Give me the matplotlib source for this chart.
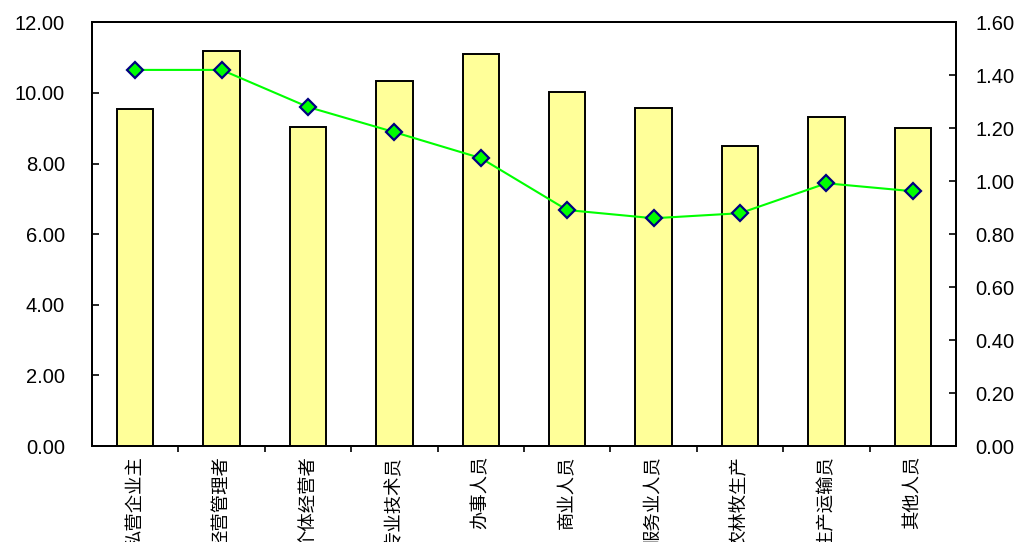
import numpy as np
import matplotlib.pyplot as plt
from matplotlib.ticker import FormatStrFormatter

plt.rcParams['font.family'] = ['Liberation Sans', 'DejaVu Sans']

# ── data ─────────────────────────────────────────────────────────────────
categories = ["私营企业主", "经营管理者", "个体经营者", "专业技术员", "办事人员",
              "商业人员", "服务业人员", "农林牧生产", "生产运输员", "其他人员"]
bar_values = [9.54, 11.18, 9.03, 10.33, 11.10, 10.02, 9.57, 8.49, 9.31, 9.00]
line_values = [1.42, 1.42, 1.28, 1.185, 1.087, 0.891, 0.860, 0.879, 0.992, 0.962]

x = np.arange(len(categories))

fig = plt.figure(figsize=(10.19, 5.42), dpi=100)
ax = fig.add_axes([0.0903, 0.177, 0.8479, 0.782])

ax.bar(x, bar_values, width=0.42, color='#FFFF99', edgecolor='black',
       linewidth=1.4, zorder=2)
ax.set_xlim(-0.5, len(categories) - 0.5)
ax.set_ylim(0, 12)
ax.set_yticks(np.arange(0, 12.01, 2))
ax.yaxis.set_major_formatter(FormatStrFormatter('%.2f'))
ax.tick_params(axis='y', direction='in', length=5, width=1.2, labelsize=14.5, pad=19.5)

# category labels, rotated; the reference clips them at the bottom edge
ax.set_xticks(x)
ax.set_xticklabels(categories, rotation=90, va='top', ha='center',
                   family=['Noto Sans CJK SC', 'DejaVu Sans'], fontsize=13.2,
                   fontweight='light')
ax.tick_params(axis='x', which='major', length=0, pad=7)
ax.set_xticks(x[:-1] + 0.5, minor=True)
ax.tick_params(axis='x', which='minor', direction='out', length=4, width=1.2)

ax2 = ax.twinx()
ax2.plot(x, line_values, color='#00FF00', linewidth=1.5, marker='D',
         markersize=8, markerfacecolor='#00FF00', markeredgecolor='#000080',
         markeredgewidth=1.6, zorder=3)
ax2.set_ylim(0, 1.6)
ax2.set_yticks(np.arange(0, 1.61, 0.2))
ax2.yaxis.set_major_formatter(FormatStrFormatter('%.2f'))
ax2.tick_params(axis='y', direction='in', length=5, width=1.2, labelsize=14.5, pad=13.7)

for a in (ax, ax2):
    for s in a.spines.values():
        s.set_linewidth(1.4)

fig.savefig("out.png", dpi=100)
